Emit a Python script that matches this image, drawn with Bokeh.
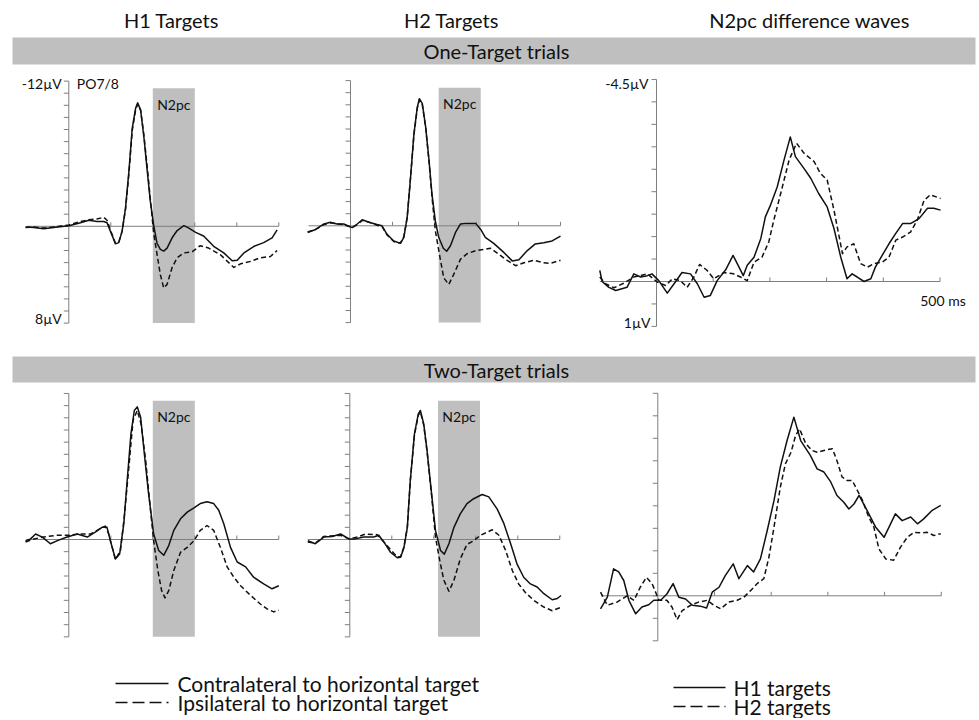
import numpy as np
from bokeh.plotting import figure
from bokeh.layouts import column, row
from bokeh.models import Range1d
from bokeh.core.properties import value
from bokeh.embed import file_html
from bokeh.resources import INLINE

# ------------------------------------------------------------------ data
COL_TITLES = ["H1 Targets", "H2 Targets", "N2pc difference waves"]
ROW_TITLES = ["One-Target trials", "Two-Target trials"]
LEGEND_LEFT = ["Contralateral to horizontal target", "Ipsilateral to horizontal target"]
LEGEND_RIGHT = ["H1 targets", "H2 targets"]
ELECTRODE = "PO7/8"

N2PC_WIN_H1 = [200, 300]      # ms
N2PC_WIN_H2 = [210, 310]      # ms
ERP_YLIM = [-12, 8]           # µV (negative up)
DIFF_YLIM = [-4.5, 1]         # µV (negative up)
TIME_LIM = [-100, 500]        # ms
TIME_TICKS = [100, 200, 300, 400, 500]

# One-target, H1 targets
t1_con = [-103,-83,-60,-36,0,28,48,67,83,91,99,111,119,127,135,143,151,159,164,171,179,187,194,202,210,218,226,234,246,258,274,286,302,321,345,369,389,401,417,441,464,484,496]
v1_con = [0.05,0.1,0.2,0.1,-0.05,-0.3,-0.5,-0.4,-0.4,-0.3,0.4,1.45,1.35,0.4,-1.5,-4.5,-8.1,-9.75,-10.2,-9.6,-7.3,-4.5,-2.1,-0.1,1.4,1.9,2.05,1.8,0.95,0.35,-0.05,0.15,0.5,0.8,1.65,2.2,2.85,2.8,2.2,1.65,1.35,0.95,0.3]
t1_ips = [-103,-83,-60,-36,0,28,48,67,83,91,99,111,119,127,135,143,151,159,164,171,179,187,194,202,210,218,226,234,246,258,274,294,313,333,361,393,409,433,456,480,496]
v1_ips = [0.1,0.05,0.15,0.05,-0.1,-0.4,-0.55,-0.6,-0.75,-0.5,0.3,1.4,1.3,0.4,-1.4,-4.3,-7.9,-9.6,-10.1,-9.6,-7.5,-4.8,-2.3,0.55,2.3,4.0,5.1,4.8,3.4,2.6,2.2,2.1,1.6,1.8,2.35,3.4,3.1,2.9,2.6,2.5,2.0]

# One-target, H2 targets
t2_con = [-102,-83,-63,-48,-32,-16,4,16,28,44,63,75,87,103,119,127,135,143,151,159,164,171,179,187,194,202,210,221,229,238,250,262,274,298,310,321,341,365,385,401,421,440,460,480,500]
v2_con = [0.55,0.3,-0.15,-0.3,-0.15,-0.15,0.15,-0.15,-0.5,-0.3,-0.1,0,0.7,1.25,1.45,0.95,-0.7,-4.0,-7.6,-9.8,-10.5,-10.1,-8.15,-5.4,-2.6,-0.4,0.95,1.85,2.1,1.65,0.55,-0.15,-0.2,-0.2,0.3,0.95,1.45,2.2,2.9,2.8,2.05,1.5,1.4,1.25,0.85]
t2_ips = [-102,-83,-63,-48,-32,-16,4,16,28,44,63,75,87,103,111,119,127,135,143,151,159,164,171,179,187,194,202,213,222,234,246,262,278,298,317,333,353,373,393,413,437,460,476,500]
v2_ips = [0.5,0.3,-0.1,-0.25,-0.15,-0.1,0.15,-0.1,-0.45,-0.3,-0.05,0.05,0.75,1.3,1.4,1.4,0.9,-0.7,-4.0,-7.5,-9.7,-10.4,-10.0,-8.1,-5.3,-2.4,0.4,2.6,4.3,4.85,4.0,2.75,2.3,2.05,1.95,1.85,2.35,2.85,3.3,3.05,2.85,3.05,3.1,2.85]

# One-target, difference waves
t3_h1 = [-100,-96,-84,-72,-61,-52,-40,-28,-16,-8,4,19,31,45,60,72,84,95,107,122,135,144,153,160,172,184,192,201,213,225,236,245,260,272,286,301,313,325,336,345,354,366,378,386,398,410,422,434,448,463,478,489,501]
v3_h1 = [-0.25,0,0.13,0.2,0.16,0.13,-0.17,-0.1,-0.13,-0.17,-0.02,0.26,0.05,-0.2,-0.17,0.05,0.35,0.31,-0.02,-0.26,-0.58,-0.36,-0.13,-0.36,-0.54,-0.96,-1.44,-1.7,-2.11,-2.71,-3.22,-2.78,-2.52,-2.3,-1.96,-1.66,-1.18,-0.54,-0.06,-0.17,-0.1,0,-0.06,-0.32,-0.58,-0.84,-1.07,-1.29,-1.29,-1.4,-1.63,-1.63,-1.59]
t3_h2 = [-100,-90,-75,-58,-40,-16,1,16,28,42,54,66,76,89,101,119,136,148,160,172,186,198,207,219,234,247,260,278,289,301,313,328,336,348,360,372,384,398,410,422,434,448,460,472,483,501]
v3_h2 = [-0.1,0.05,0.14,0.04,-0.1,-0.17,0.01,0.09,-0.06,-0.02,0.13,-0.1,-0.38,-0.25,-0.06,-0.2,-0.17,-0.1,-0.02,-0.43,-0.54,-0.88,-1.37,-1.96,-2.71,-3.08,-2.86,-2.67,-2.41,-2.26,-1.59,-0.62,-0.77,-0.84,-0.4,-0.32,-0.4,-0.43,-0.54,-0.92,-0.99,-1.1,-1.37,-1.81,-1.93,-1.85]

# Two-target, H1 targets
t4_con = [-103,-91,-79,-63,-44,-24,-4,20,44,63,79,91,99,111,121,131,139,148,156,163,171,180,190,202,214,226,238,250,266,282,298,313,329,345,357,369,385,401,421,440,464,484,500]
v4_con = [0.1,-0.05,-0.45,-0.2,0.35,0.05,-0.2,-0.45,-0.2,-0.6,-1.0,-1.0,0.1,1.6,1.2,-1.3,-4.85,-8.7,-10.6,-10.9,-10.05,-7.0,-3.75,-0.45,0.9,1.3,0.5,-0.75,-1.7,-2.25,-2.6,-2.95,-3.1,-2.95,-2.4,-1.3,0.65,1.85,2.25,3.1,3.65,4.05,3.8]
t4_ips = [-103,-83,-60,-28,0,28,52,75,87,95,111,123,132,143,153,163,172,183,193,202,212,221,229,238,250,266,282,298,313,329,345,361,377,393,409,433,456,472,488,500]
v4_ips = [0.2,-0.05,-0.2,-0.35,-0.35,-0.45,-0.45,-0.9,-1.1,-0.45,1.65,0.9,-1.85,-5.95,-9.8,-10.6,-9.5,-6.5,-2.95,0.1,2.55,4.2,4.8,4.2,2.55,1.05,0.65,0.1,-0.75,-1.15,-0.75,0.65,2.25,3.1,3.8,4.6,5.3,5.7,5.95,5.8]

# Two-target, H2 targets
t5_con = [-100,-82,-62,-42,-22,-2,13,33,57,69,81,97,113,121,129,137,144,154,163,168,176,184,194,204,216,225,236,248,263,279,295,315,331,351,367,383,398,414,430,446,462,482,494,503]
v5_con = [0.1,0.35,-0.2,-0.25,-0.45,-0.05,-0.05,-0.2,-0.2,-0.35,0.2,1.05,1.5,1.45,0.65,-1.0,-4.85,-8.7,-10.3,-10.6,-9.5,-7.3,-4.0,-0.75,0.9,1.2,0.35,-1.0,-2.1,-2.95,-3.35,-3.7,-3.5,-2.5,-1.3,0.35,2.0,3.1,3.65,3.9,4.45,4.95,4.85,4.6]
t5_ips = [-100,-82,-62,-22,-2,18,37,65,81,113,121,129,137,144,154,163,168,176,184,194,204,214,224,236,248,263,279,295,311,327,339,355,371,387,402,418,438,462,482,501]
v5_ips = [0.2,0.3,-0.25,-0.35,-0.05,-0.2,-0.45,-0.4,0.2,1.45,1.4,0.6,-1.0,-4.8,-8.6,-10.2,-10.5,-9.4,-7.2,-3.9,-0.2,1.7,3.35,4.25,3.35,1.6,0.4,0.1,-0.35,-0.6,-0.8,-0.35,0.9,2.55,3.65,4.35,5.0,5.55,5.85,5.6]

# Two-target, difference waves
t6_h1 = [-101,-89,-78,-69,-60,-51,-39,-28,-16,-7,5,16,27,37,49,61,75,86,96,108,119,133,143,158,169,181,193,205,216,228,240,252,269,281,293,305,316,328,337,346,355,369,384,399,408,419,431,446,458,469,484,499]
v6_h1 = [0.29,0.03,-0.6,-0.53,-0.34,0.1,0.4,0.25,0.2,0.1,0.1,-0.04,-0.27,0.03,0.07,0.21,0.23,0.27,-0.08,-0.19,-0.45,-0.71,-0.38,-0.67,-0.53,-0.82,-1.45,-2.12,-2.86,-3.45,-3.97,-3.45,-3.12,-2.82,-2.75,-2.53,-2.23,-2.08,-1.93,-2.04,-2.23,-1.9,-1.53,-1.3,-1.53,-1.82,-1.67,-1.75,-1.6,-1.71,-1.9,-2.01]
t6_h2 = [-101,-89,-72,-54,-42,-31,-20,-10,2,16,25,34,43,58,72,87,99,111,125,140,152,164,175,187,196,205,216,225,235,243,250,261,272,281,293,308,316,325,334,343,352,361,372,381,390,402,416,428,440,452,464,475,487,499]
v6_h2 = [-0.08,0.21,0.14,0,0.1,-0.19,-0.41,-0.27,0.1,0.1,0.25,0.53,0.33,0.21,0.14,0.1,0.21,0.29,0.14,0.1,0.03,-0.12,-0.27,-0.38,-0.86,-1.53,-2.41,-2.93,-3.19,-3.56,-3.71,-3.38,-3.23,-3.19,-3.23,-3.27,-3.0,-2.64,-2.56,-2.56,-2.34,-2.12,-1.75,-1.53,-1.04,-0.82,-0.79,-1.08,-1.3,-1.41,-1.4,-1.41,-1.34,-1.38]

# ------------------------------------------------------------------ style
FONT = "Lato"
GRAY = "#bfbfbf"
AXIS = "#7f7f7f"
INK = "#111111"
BOX_TOP = -11.4
DASH = "5 3"


def make_fig(L, T, W, H, x0=0.0, sx=1.0, y0=0.0, sy=1.0):
    """Figure covering page rect (L,T,W,H); data mapped by origin/scale."""
    xr = Range1d((L - x0) / sx, (L + W - x0) / sx)
    yr = Range1d((T + H - y0) / sy, (T - y0) / sy)
    p = figure(width=W, height=H, x_range=xr, y_range=yr,
               output_backend="svg", toolbar_location=None,
               x_axis_location=None, y_axis_location=None,
               min_border=0, outline_line_color=None,
               background_fill_color="white", border_fill_color="white")
    p.grid.visible = False
    return p


def txt(p, x, y, s, size, align="center", color=INK):
    p.text(x=[x], y=[y], text=[s], text_font=value(FONT), text_font_size=size,
           text_align=align, text_baseline="middle", text_color=color)


def erp_panel(rect, mapping, ylim, ystep, win, solid, dashed):
    L, T, W, H = rect
    x0, sx, y0, sy = mapping
    p = make_fig(L, T, W, H, x0, sx, y0, sy)
    ymin, ymax = ylim
    if win is not None:
        p.quad(left=win[0], right=win[1], top=BOX_TOP, bottom=ymax,
               fill_color=GRAY, line_color=None)
        txt(p, (win[0] + win[1]) / 2, BOX_TOP + 16 / sy, "N2pc", "14px")
    # zero line (x axis) and y axis
    p.segment(x0=TIME_LIM[0], y0=0, x1=TIME_LIM[1], y1=0, line_color=AXIS, line_width=1)
    p.segment(x0=0, y0=ymin, x1=0, y1=ymax, line_color=AXIS, line_width=1)
    yt = np.arange(ymin, ymax + 1e-9, ystep)
    p.segment(x0=np.zeros_like(yt), y0=yt, x1=np.full_like(yt, -5 / sx), y1=yt,
              line_color=AXIS, line_width=1)
    xt = np.array(TIME_TICKS, dtype=float)
    p.segment(x0=xt, y0=np.zeros_like(xt), x1=xt, y1=np.full_like(xt, -4 / sy),
              line_color=AXIS, line_width=1)
    p.line(solid[0], solid[1], line_color=INK, line_width=1.5, line_join="round")
    p.line(dashed[0], dashed[1], line_color=INK, line_width=1.5, line_dash=DASH,
           line_join="round")
    return p


PAGE_W = 976
HDR = (0, 0, PAGE_W, 66)
R1T, R1H = 66, 274
BND = (0, 340, PAGE_W, 44)
R2T, R2H = 384, 262
LEG = (0, 646, PAGE_W, 72)

# ---- header with column titles and first row band
hdr = make_fig(*HDR)
for s, cx in zip(COL_TITLES, [171, 451, 809]):
    txt(hdr, cx, 19, s, "20px")
hdr.quad(left=12, right=975, top=37, bottom=64, fill_color=GRAY, line_color=None)
txt(hdr, 496, 50.5, ROW_TITLES[0], "20px")

# ---- row 1
p1 = erp_panel((0, R1T, 292, R1H), (68.3, 0.42, 225.8, 12.1), ERP_YLIM, 1, N2PC_WIN_H1,
               (t1_con, v1_con), (t1_ips, v1_ips))
txt(p1, -7 / 0.42, ERP_YLIM[0] + 2 / 12.1, "-12µV", "14px", "right")
txt(p1, 8 / 0.42, ERP_YLIM[0] + 2 / 12.1, ELECTRODE, "14px", "left")
txt(p1, -7 / 0.42, ERP_YLIM[1] - 5 / 12.1, "8µV", "14px", "right")

p2 = erp_panel((292, R1T, 288, R1H), (350, 0.42, 225.3, 12.1), ERP_YLIM, 1, N2PC_WIN_H2,
               (t2_con, v2_con), (t2_ips, v2_ips))

p3 = erp_panel((580, R1T, 396, R1H), (656, 0.567, 281, 44.9), DIFF_YLIM, 0.5, None,
               (t3_h1, v3_h1), (t3_h2, v3_h2))
txt(p3, -8 / 0.567, DIFF_YLIM[0] + 4 / 44.9, "-4.5µV", "14px", "right")
txt(p3, -6 / 0.567, DIFF_YLIM[1] - 4 / 44.9, "1µV", "14px", "right")
txt(p3, TIME_TICKS[-1] + 3 / 0.567, 19 / 44.9, "500 ms", "14px", "center")

# ---- band 2
bnd = make_fig(*BND)
bnd.quad(left=12, right=975, top=356, bottom=382, fill_color=GRAY, line_color=None)
txt(bnd, 496, 369, ROW_TITLES[1], "20px")

# ---- row 2
p4 = erp_panel((0, R2T, 292, R2H), (68.3, 0.42, 539, 12.17), ERP_YLIM, 1, N2PC_WIN_H1,
               (t4_con, v4_con), (t4_ips, v4_ips))
p5 = erp_panel((292, R2T, 288, R2H), (349.3, 0.42, 539, 12.17), ERP_YLIM, 1, N2PC_WIN_H2,
               (t5_con, v5_con), (t5_ips, v5_ips))
p6 = erp_panel((580, R2T, 396, R2H), (657.3, 0.567, 595.3, 45), DIFF_YLIM, 0.5, None,
               (t6_h1, v6_h1), (t6_h2, v6_h2))

# ---- legend
leg = make_fig(*LEG)
leg.segment(x0=115, y0=683, x1=168, y1=683, line_color=INK, line_width=1.6)
leg.segment(x0=115, y0=702, x1=168, y1=702, line_color=INK, line_width=1.6, line_dash="12 5")
txt(leg, 177, 683, LEGEND_LEFT[0], "21px", "left")
txt(leg, 177, 702, LEGEND_LEFT[1], "21px", "left")
leg.segment(x0=673, y0=687, x1=725, y1=687, line_color=INK, line_width=1.6)
leg.segment(x0=673, y0=706, x1=725, y1=706, line_color=INK, line_width=1.6, line_dash="12 5")
txt(leg, 733, 687, LEGEND_RIGHT[0], "21px", "left")
txt(leg, 733, 706, LEGEND_RIGHT[1], "21px", "left")

layout = column(hdr, row(p1, p2, p3), bnd, row(p4, p5, p6), leg)

open("out.html", "w").write(file_html(layout, INLINE, title="N2pc"))
